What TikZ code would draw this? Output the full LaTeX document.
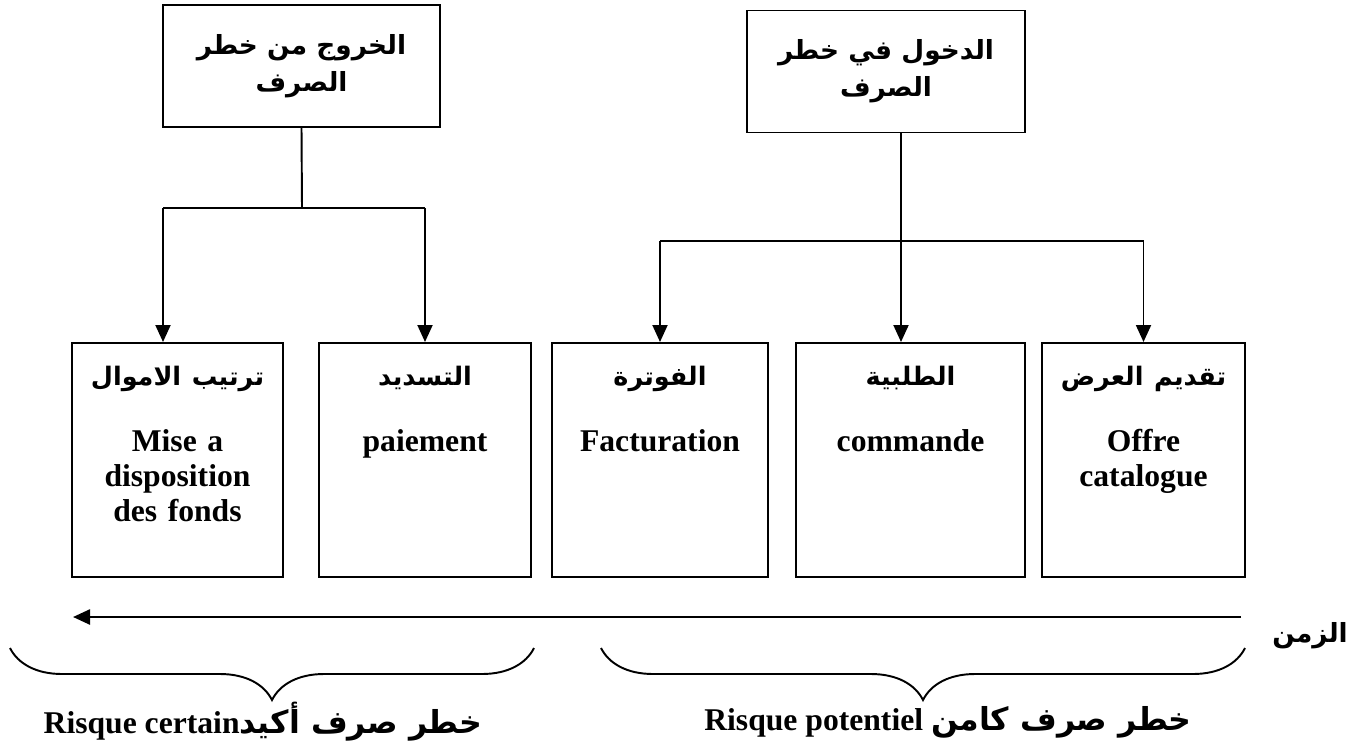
\documentclass[tikz,border=0pt]{standalone}
\usepackage{fontspec}
\setmainfont{Liberation Serif}
\newfontfamily\arabicfont[Script=Arabic]{DejaVu Sans}
\TeXXeTstate=1
\usetikzlibrary{arrows.meta, positioning, calc, decorations.pathreplacing}

\newcommand{\artext}[1]{{\arabicfont\beginR #1\endR}}
\newcommand{\stagetitle}[1]{{\arabicfont\fontsize{14.5}{20}\selectfont\beginR #1\endR}}

\begin{document}
\begin{tikzpicture}[
  topbox/.style={draw, line width=1.1pt, minimum width=5.55cm, minimum height=2.44cm, align=center,
    font=\arabicfont\bfseries\fontsize{15}{21}\selectfont},
  stage/.style={draw, line width=1.1pt, anchor=north, inner sep=0pt, text width=4cm, align=center,
    text height=0.86cm, text depth=3.82cm, font=\bfseries\fontsize{18}{20}\selectfont},
  flow/.style={line width=1.1pt, -{Triangle[length=0.34cm, width=0.3cm]}},
  link/.style={line width=1.1pt},
  risk/.style={font=\bfseries\fontsize{18}{20}\selectfont},
]
  \useasboundingbox (0,0) rectangle (27.4,-14.92);

  % Entry and exit of the exchange risk
  \node[topbox] (exit) at (6.03,-1.32) {\beginR الخروج من خطر\endR\\\beginR الصرف\endR};
  \node[topbox] (entry) at (17.72,-1.43) {\beginR الدخول في خطر\endR\\\beginR الصرف\endR};

  % Stages of the operation
  \node[stage, minimum width=4.22cm] (fonds) at (3.55,-6.84) {\stagetitle{ترتيب الاموال}\\[0.6cm] Mise a\\disposition\\des fonds};
  \node[stage, minimum width=4.24cm] (paie) at (8.50,-6.84) {\stagetitle{التسديد}\\[0.6cm] paiement};
  \node[stage, minimum width=4.32cm] (fact) at (13.20,-6.84) {\stagetitle{الفوترة}\\[0.6cm] Facturation};
  \node[stage, minimum width=4.58cm] (cmd) at (18.21,-6.84) {\stagetitle{الطلبية}\\[0.6cm] commande};
  \node[stage, minimum width=4.06cm] (offre) at (22.87,-6.84) {\stagetitle{تقديم العرض}\\[0.6cm] Offre\\catalogue};

  % Exit branch
  \coordinate (lmid) at (6.04,-4.16);
  \coordinate (lleft) at (3.26,-4.16);
  \draw[link] (exit.south) -- (lmid);
  \draw[link] (lleft) -- (paie.north |- lmid);
  \draw[flow] (lleft) -- (lleft |- fonds.north);
  \draw[flow] (paie.north |- lmid) -- (paie.north);

  % Entry branch
  \coordinate (rmid) at (18.02,-4.82);
  \draw[flow] (entry.south -| rmid) -- (rmid |- cmd.north);
  \draw[link] (fact.north |- rmid) -- (offre.north |- rmid);
  \draw[flow] (fact.north |- rmid) -- (fact.north);
  \draw[flow] (offre.north |- rmid) -- (offre.north);

  % Time axis
  \coordinate (tstart) at (24.82,-12.34);
  \coordinate (tend) at (1.46,-12.34);
  \draw[flow, line width=1.4pt] (tstart) -- (tend);
  \node[font=\arabicfont\bfseries\fontsize{15}{18}\selectfont] (time) at (26.2,-12.72) {\beginR الزمن\endR};

  % Certain and potential risk
  \draw[link, decorate, decoration={brace, mirror, amplitude=1.04cm}] (0.2,-12.96) -- (10.68,-12.96);
  \draw[link, decorate, decoration={brace, mirror, amplitude=1.04cm}] (12.02,-12.96) -- (24.9,-12.96);
  \node[risk] (certain) at (5.26,-14.44) {Risque certain\artext{خطر صرف أكيد}};
  \node[risk] (potentiel) at (18.96,-14.44) {Risque potentiel \artext{خطر صرف كامن}};
\end{tikzpicture}
\end{document}
